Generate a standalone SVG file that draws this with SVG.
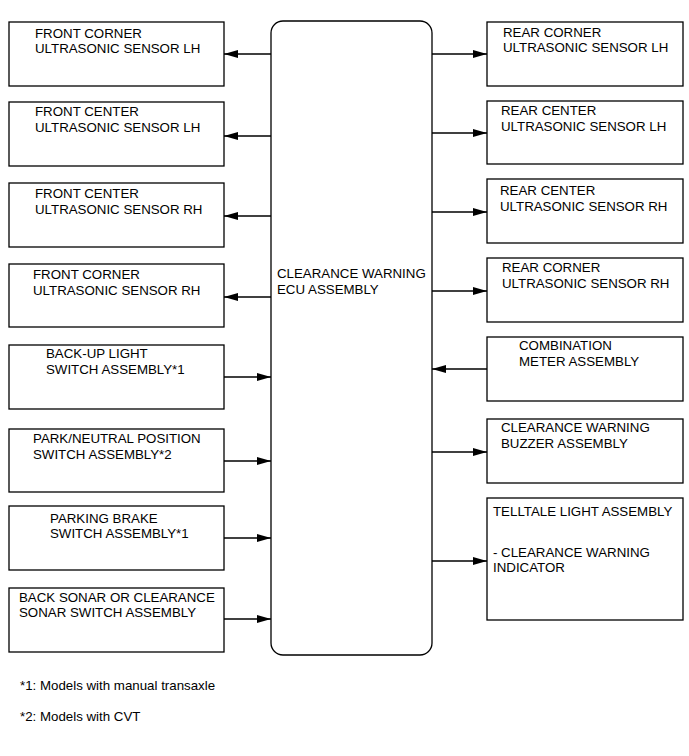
<svg xmlns="http://www.w3.org/2000/svg" width="689" height="756" viewBox="0 0 689 756">
<style>
.box{fill:#fff;stroke:#000;stroke-width:1.3}
.t{font-family:"Liberation Sans",Arial,sans-serif;font-size:13.3px;fill:#000}
.c{stroke:#000;stroke-width:1.3;fill:none;marker-end:url(#ah)}
</style>
<defs>
<marker id="ah" markerUnits="userSpaceOnUse" markerWidth="15" markerHeight="9" refX="14" refY="4" orient="auto">
<path d="M0,0 L14,4 L0,8 Z" fill="#000"/>
</marker>
</defs>
<rect width="689" height="756" fill="#fff"/>

<g id="ecu">
<rect class="box" x="271" y="21" width="161" height="634" rx="12" ry="12"/>
<text class="t" x="277" y="278">CLEARANCE WARNING</text>
<text class="t" x="277" y="294">ECU ASSEMBLY</text>
</g>

<g id="front-corner-lh">
<rect class="box" x="9" y="22" width="215" height="64"/>
<text class="t" x="35" y="38">FRONT CORNER</text>
<text class="t" x="35" y="53">ULTRASONIC SENSOR LH</text>
</g>
<g id="front-center-lh">
<rect class="box" x="9" y="102" width="215" height="64"/>
<text class="t" x="35" y="116">FRONT CENTER</text>
<text class="t" x="35" y="132">ULTRASONIC SENSOR LH</text>
</g>
<g id="front-center-rh">
<rect class="box" x="9" y="183" width="215" height="64"/>
<text class="t" x="35" y="198">FRONT CENTER</text>
<text class="t" x="35" y="214">ULTRASONIC SENSOR RH</text>
</g>
<g id="front-corner-rh">
<rect class="box" x="9" y="264" width="215" height="63"/>
<text class="t" x="33" y="279">FRONT CORNER</text>
<text class="t" x="33" y="295">ULTRASONIC SENSOR RH</text>
</g>
<g id="backup-light">
<rect class="box" x="9" y="345" width="215" height="64"/>
<text class="t" x="46" y="358">BACK-UP LIGHT</text>
<text class="t" x="46" y="374">SWITCH ASSEMBLY*1</text>
</g>
<g id="park-neutral">
<rect class="box" x="9" y="429" width="215" height="63"/>
<text class="t" x="33" y="443">PARK/NEUTRAL POSITION</text>
<text class="t" x="33" y="459">SWITCH ASSEMBLY*2</text>
</g>
<g id="parking-brake">
<rect class="box" x="9" y="506" width="215" height="64"/>
<text class="t" x="50" y="523">PARKING BRAKE</text>
<text class="t" x="50" y="538">SWITCH ASSEMBLY*1</text>
</g>
<g id="sonar-switch">
<rect class="box" x="9" y="588" width="215" height="64"/>
<text class="t" x="19" y="602">BACK SONAR OR CLEARANCE</text>
<text class="t" x="19" y="617">SONAR SWITCH ASSEMBLY</text>
</g>

<g id="rear-corner-lh">
<rect class="box" x="487" y="22" width="196" height="64"/>
<text class="t" x="503" y="37">REAR CORNER</text>
<text class="t" x="503" y="52">ULTRASONIC SENSOR LH</text>
</g>
<g id="rear-center-lh">
<rect class="box" x="487" y="101" width="196" height="63"/>
<text class="t" x="501" y="115">REAR CENTER</text>
<text class="t" x="501" y="131">ULTRASONIC SENSOR LH</text>
</g>
<g id="rear-center-rh">
<rect class="box" x="487" y="179" width="196" height="64"/>
<text class="t" x="500" y="195">REAR CENTER</text>
<text class="t" x="500" y="211">ULTRASONIC SENSOR RH</text>
</g>
<g id="rear-corner-rh">
<rect class="box" x="487" y="258" width="196" height="64"/>
<text class="t" x="502" y="272">REAR CORNER</text>
<text class="t" x="502" y="288">ULTRASONIC SENSOR RH</text>
</g>
<g id="combination-meter">
<rect class="box" x="487" y="337" width="196" height="64"/>
<text class="t" x="519" y="350">COMBINATION</text>
<text class="t" x="519" y="366">METER ASSEMBLY</text>
</g>
<g id="buzzer">
<rect class="box" x="487" y="419" width="196" height="64"/>
<text class="t" x="501" y="432">CLEARANCE WARNING</text>
<text class="t" x="501" y="448">BUZZER ASSEMBLY</text>
</g>
<g id="telltale">
<rect class="box" x="487" y="498" width="196" height="122"/>
<text class="t" x="493" y="516">TELLTALE LIGHT ASSEMBLY</text>
<text class="t" x="493" y="557">- CLEARANCE WARNING</text>
<text class="t" x="493" y="572">INDICATOR</text>
</g>

<g id="connectors">
<line class="c" x1="271" y1="54" x2="224" y2="54"/>
<line class="c" x1="271" y1="136" x2="224" y2="136"/>
<line class="c" x1="271" y1="216" x2="224" y2="216"/>
<line class="c" x1="271" y1="297" x2="224" y2="297"/>
<line class="c" x1="224" y1="377" x2="271" y2="377"/>
<line class="c" x1="224" y1="461" x2="271" y2="461"/>
<line class="c" x1="224" y1="538" x2="271" y2="538"/>
<line class="c" x1="224" y1="619" x2="271" y2="619"/>
<line class="c" x1="432" y1="54" x2="487" y2="54"/>
<line class="c" x1="432" y1="133" x2="487" y2="133"/>
<line class="c" x1="432" y1="212" x2="487" y2="212"/>
<line class="c" x1="432" y1="291" x2="487" y2="291"/>
<line class="c" x1="487" y1="369" x2="432" y2="369"/>
<line class="c" x1="432" y1="452" x2="487" y2="452"/>
<line class="c" x1="432" y1="561" x2="487" y2="561"/>
</g>

<g id="notes">
<text class="t" x="20" y="690">*1: Models with manual transaxle</text>
<text class="t" x="20" y="721">*2: Models with CVT</text>
</g>
</svg>
